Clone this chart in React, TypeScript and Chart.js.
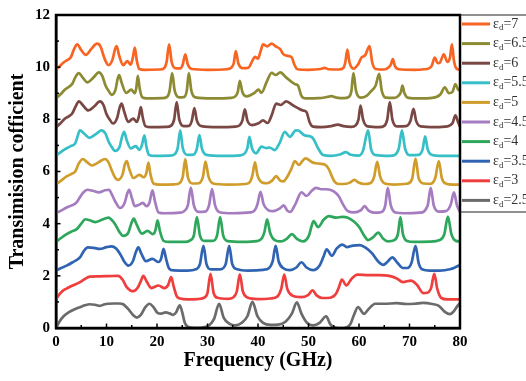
import React, { useEffect, useRef } from "react";
import { Chart, registerables } from "chart.js";

Chart.register(...registerables);

// Transmission of each spectrum (0..1); curves are stacked by OFFSETS
const LABELS = ["2.5", "3", "3.5", "4", "4.5", "5", "5.5", "6", "6.5", "7"];
const OFFSETS = [0, 1.1, 2.2, 3.3, 4.4, 5.5, 6.6, 7.7, 8.8, 9.9];
const COLORS = ["#6b6b6b", "#ef3e3e", "#3064b2", "#2ea75c", "#a57cc0", "#d09d2c", "#36bfc6", "#7a4844", "#8c8b34", "#f86422"];

const S25: number[][] = [[0,0],[0.7,0.25],[1.5,0.45],[2.5,0.6],[3.5,0.7],[4.75,0.8],[5.7,0.87],[6.7,0.91],[7.7,0.89],[8.7,0.85],[9.5,0.9],[10.3,0.93],[11.5,0.94],[12.5,0.94],[13.3,0.91],[14.2,0.75],[15.3,0.49],[16.0,0.4],[16.8,0.5],[17.7,0.8],[18.5,0.93],[19.3,0.8],[20.1,0.58],[20.8,0.55],[21.7,0.6],[22.5,0.56],[23.2,0.5],[23.8,0.6],[24.5,0.87],[25.0,0.6],[25.5,0.2],[26.2,0.04],[27.5,0.01],[29,0.02],[30.3,0.1],[31.3,0.35],[32.3,0.93],[33.2,0.4],[34.3,0.17],[35.5,0.1],[36.8,0.2],[37.9,0.45],[38.9,1.0],[39.9,0.45],[41,0.2],[42.5,0.12],[44,0.13],[45.5,0.25],[46.7,0.55],[47.7,0.98],[48.6,0.55],[49.7,0.2],[50.9,0.1],[52.2,0.2],[53.5,0.45],[54.3,0.15],[55.2,0.02],[57,0],[58.3,0.15],[59.0,0.5],[59.8,0.8],[61.0,0.54],[62.0,0.75],[63.2,0.93],[65,0.93],[67.5,0.95],[69.4,0.92],[71,0.93],[72.7,0.96],[74.5,0.92],[75.8,0.85],[77,0.62],[78,0.53],[78.8,0.65],[79.5,0.85],[80,0.96]];
const S30: number[][] = [[0,0],[0.7,0.2],[1.5,0.35],[2.1,0.41],[3.3,0.53],[4.75,0.66],[5.7,0.78],[6.7,0.87],[8.5,0.88],[10.5,0.89],[12.3,0.9],[13.2,0.75],[14,0.47],[15.3,0.31],[16.2,0.45],[16.8,0.7],[17.3,0.9],[17.9,0.7],[18.9,0.43],[20.3,0.53],[21.5,0.43],[22.2,0.55],[22.8,0.85],[23.3,0.5],[23.9,0.12],[24.6,0.03],[26,0],[28,0.01],[29.3,0.06],[30,0.25],[30.6,0.98],[31.2,0.25],[32,0.06],[34,0.02],[35.1,0.07],[35.8,0.3],[36.4,0.96],[37,0.3],[37.9,0.07],[40,0.01],[42.5,0.03],[43.9,0.12],[44.6,0.4],[45.2,0.95],[45.8,0.4],[46.8,0.14],[48.5,0.08],[49.9,0.16],[50.8,0.34],[51.6,0.15],[52.8,0.05],[54.3,0.06],[55.4,0.2],[56.0,0.45],[56.6,0.76],[57.5,0.53],[58.5,0.78],[59.7,0.95],[62,0.93],[64,0.93],[66,0.9],[67.5,0.8],[68.7,0.66],[70.3,0.72],[71.5,0.55],[72.7,0.24],[73.5,0.25],[74.3,0.45],[74.9,0.98],[75.5,0.4],[76.3,0.05],[77.5,0],[80,0]];
const S35: number[][] = [[0,0],[1,0.1],[2.1,0.19],[3.3,0.32],[4.75,0.51],[5.5,0.75],[6.3,0.89],[7.5,0.87],[8.7,0.83],[10,0.9],[11,0.93],[11.9,0.85],[12.7,0.64],[13.5,0.35],[14.3,0.19],[15.2,0.35],[15.8,0.7],[16.3,0.89],[16.9,0.65],[17.8,0.36],[19.1,0.45],[20.3,0.33],[20.8,0.45],[21.3,0.83],[21.8,0.45],[22.4,0.08],[23.3,0.01],[26,0],[27.7,0.05],[28.5,0.25],[29.2,0.95],[29.8,0.25],[30.7,0.05],[32.5,0.05],[33.6,0.25],[34.3,0.95],[34.9,0.25],[35.9,0.05],[38,0],[41,0.03],[42.2,0.1],[42.9,0.35],[43.5,0.95],[44.1,0.35],[45.1,0.08],[46.3,0.02],[47.6,0.12],[48.6,0.32],[49.6,0.12],[50.9,0.02],[52.2,0.2],[53.0,0.55],[53.6,0.82],[54.6,0.57],[55.6,0.85],[56.7,1.0],[57.6,0.9],[58.8,0.96],[60.2,0.98],[61.3,0.88],[62.6,0.66],[63.8,0.35],[64.8,0.22],[65.7,0.35],[66.6,0.51],[67.6,0.3],[68.7,0.1],[69.6,0.1],[70.4,0.3],[71.2,0.95],[71.8,0.3],[72.6,0.04],[74,0],[76,0],[78,0.05],[79,0.12],[80,0.22]];
const S40: number[][] = [[0,0],[1,0.15],[2.1,0.3],[3.1,0.4],[4.1,0.49],[5,0.7],[5.8,0.87],[6.8,0.82],[7.8,0.76],[9,0.84],[10.4,0.93],[11.0,0.85],[11.7,0.68],[12.5,0.4],[13.3,0.23],[14.3,0.35],[14.9,0.7],[15.4,0.89],[16.0,0.65],[17.0,0.32],[18.1,0.42],[19.2,0.3],[19.7,0.45],[20.1,0.83],[20.6,0.4],[21.3,0.04],[22.5,0],[25.5,0],[26.5,0.05],[27.3,0.25],[27.9,0.95],[28.5,0.25],[29.4,0.04],[31,0.04],[31.9,0.25],[32.5,0.95],[33.1,0.25],[34,0.03],[37,0],[39.8,0.03],[40.8,0.15],[41.3,0.4],[41.8,0.87],[42.4,0.35],[43.4,0.06],[44.6,0.02],[45.7,0.12],[46.7,0.3],[47.7,0.12],[48.9,0.02],[50.1,0.25],[50.6,0.6],[51.0,0.8],[51.9,0.57],[53,0.85],[54,0.99],[55.5,0.93],[56.7,0.96],[57.8,0.93],[59,0.78],[60.1,0.55],[61,0.25],[61.8,0.07],[62.8,0.18],[63.8,0.36],[64.8,0.12],[65.7,0.02],[67.0,0.07],[67.7,0.3],[68.2,0.95],[68.7,0.3],[69.5,0.04],[71,0],[74,0.01],[76,0.07],[76.9,0.3],[77.6,0.97],[78.3,0.3],[79.2,0.04],[80,0.02]];
const S45: number[][] = [[0,0],[1,0.1],[2.1,0.22],[3.1,0.3],[4,0.4],[4.7,0.6],[5.3,0.77],[6.2,0.9],[7.3,0.86],[8.5,0.8],[9.7,0.88],[10.5,0.9],[11.1,0.7],[11.7,0.46],[12.7,0.2],[13.6,0.4],[14.1,0.75],[14.5,0.9],[15.0,0.6],[15.6,0.27],[16.5,0.33],[17.2,0.4],[17.9,0.27],[18.5,0.4],[19.1,0.88],[19.6,0.45],[20.3,0.03],[21.5,0],[24.5,0.02],[25.4,0.08],[26.1,0.3],[26.7,0.98],[27.3,0.3],[28.2,0.05],[29.5,0.06],[30.3,0.3],[30.9,0.93],[31.5,0.3],[32.4,0.04],[35,0],[38.5,0.03],[39.4,0.12],[39.9,0.35],[40.5,0.82],[41.1,0.35],[42,0.12],[43,0.08],[44.3,0.18],[45.1,0.3],[45.8,0.1],[46.4,0.05],[47.4,0.35],[48.6,0.8],[49.6,0.66],[50.6,0.85],[51.5,0.97],[52.5,0.92],[53.5,0.92],[55,0.84],[56,0.65],[56.8,0.35],[57.8,0.08],[59,0.03],[60.4,0.12],[61.1,0.27],[61.9,0.1],[63,0.02],[64.5,0.05],[65.2,0.3],[65.7,0.97],[66.3,0.3],[67.2,0.03],[69,0],[72,0.02],[73.6,0.3],[74.2,0.97],[74.8,0.3],[75.8,0.06],[77.2,0.08],[78.2,0.35],[78.8,0.8],[79.4,0.3],[80,0.05]];
const S50: number[][] = [[0,0],[1,0.15],[2.1,0.31],[3.0,0.4],[3.8,0.5],[4.5,0.8],[5.3,0.98],[6.2,0.85],[7.1,0.73],[8.4,0.85],[9.7,0.98],[10.4,0.85],[11,0.56],[11.6,0.3],[12.3,0.18],[13.2,0.4],[13.6,0.75],[14,0.9],[14.5,0.6],[15.3,0.25],[16.5,0.37],[17.4,0.28],[17.9,0.45],[18.3,0.84],[18.7,0.4],[19.3,0.04],[20.5,0],[23.5,0.01],[24.5,0.06],[25.1,0.3],[25.6,0.98],[26.1,0.3],[27,0.04],[28.3,0.05],[29.1,0.3],[29.6,0.88],[30.2,0.3],[31.1,0.04],[34,0],[37.5,0.02],[38.4,0.1],[38.9,0.35],[39.4,0.85],[39.9,0.35],[40.8,0.08],[41.8,0.05],[42.8,0.15],[43.6,0.32],[44.4,0.15],[45,0.12],[45.8,0.3],[46.6,0.6],[47.3,0.9],[48.1,0.75],[48.8,0.9],[49.4,1.0],[50.9,0.84],[52.2,0.8],[53.2,0.77],[54.0,0.6],[54.5,0.37],[55.2,0.1],[56,0.02],[57.5,0.03],[58.4,0.1],[59.1,0.18],[59.9,0.08],[61,0.02],[62.3,0.06],[63.0,0.3],[63.6,0.87],[64.2,0.3],[65.1,0.04],[67,0],[69.5,0.03],[70.5,0.2],[71.2,0.99],[71.8,0.25],[72.8,0.04],[74.2,0.03],[75.1,0.25],[75.8,0.9],[76.4,0.25],[77.3,0.03],[78.5,0],[80,0]];
const S55: number[][] = [[0,0],[1,0.15],[2.1,0.29],[3,0.38],[3.8,0.48],[4.2,0.7],[4.75,0.98],[5.6,0.85],[6.6,0.69],[7.8,0.82],[9,0.98],[9.8,0.85],[10.4,0.55],[11,0.35],[11.7,0.19],[12.6,0.35],[13.1,0.75],[13.5,0.92],[14.0,0.6],[14.8,0.29],[15.8,0.37],[16.5,0.23],[17,0.4],[17.5,0.79],[17.9,0.35],[18.4,0.04],[19.5,0],[22.5,0.01],[23.5,0.06],[24.1,0.3],[24.6,0.98],[25.1,0.3],[26,0.04],[27.2,0.05],[27.9,0.28],[28.4,0.8],[28.9,0.28],[29.8,0.04],[33,0],[36.5,0.02],[37.4,0.1],[37.9,0.3],[38.3,0.73],[38.8,0.3],[39.6,0.1],[40.7,0.35],[41.6,0.3],[42.3,0.32],[43.3,0.22],[44.3,0.5],[45.3,0.92],[46.3,0.73],[47.5,0.98],[48,0.97],[49.2,0.79],[50.3,0.75],[50.9,0.67],[51.9,0.29],[52.9,0.03],[54.5,0],[56.2,0.05],[57.4,0.14],[58.4,0.04],[60,0.01],[60.8,0.2],[61.8,0.98],[62.4,0.25],[63.3,0.03],[66,0],[67.2,0.05],[67.9,0.3],[68.5,0.98],[69.1,0.3],[70,0.03],[71.8,0.04],[72.6,0.25],[73.1,0.75],[73.6,0.25],[74.5,0.03],[76,0],[80,0]];
const S60: number[][] = [[0,0],[0.9,0.15],[1.8,0.33],[2.6,0.42],[3.2,0.52],[3.9,0.8],[4.55,0.99],[5.4,0.82],[6.4,0.64],[7.6,0.8],[8.7,0.99],[9.4,0.85],[10,0.5],[10.6,0.3],[11.3,0.14],[12.1,0.35],[12.6,0.75],[13,0.9],[13.5,0.6],[14.3,0.2],[15.3,0.33],[16,0.2],[16.4,0.4],[16.8,0.77],[17.2,0.35],[17.7,0.04],[18.8,0],[21.8,0.01],[22.8,0.06],[23.4,0.3],[23.9,0.96],[24.4,0.3],[25.3,0.04],[26.3,0.05],[26.9,0.25],[27.4,0.73],[27.9,0.25],[28.8,0.04],[32,0],[35.5,0.02],[36.4,0.08],[36.9,0.25],[37.4,0.68],[37.9,0.25],[38.8,0.08],[40.1,0.15],[41,0.26],[41.9,0.16],[42.7,0.45],[43.6,0.9],[44.5,0.85],[45.6,0.99],[46.9,0.84],[48,0.72],[48.9,0.64],[49.6,0.58],[50.2,0.2],[50.9,0.02],[52.5,0],[54.5,0.04],[55.8,0.1],[56.9,0.04],[58.5,0.01],[59.3,0.06],[59.9,0.3],[60.3,0.83],[60.8,0.3],[61.7,0.03],[64,0],[65,0.05],[65.6,0.3],[66.1,0.96],[66.6,0.3],[67.5,0.03],[69.3,0.04],[70.2,0.25],[70.8,0.7],[71.3,0.25],[72.2,0.03],[75,0],[77.5,0.03],[78.5,0.15],[79.1,0.45],[79.6,0.2],[80,0.02]];
const S65: number[][] = [[0,0],[0.9,0.16],[1.8,0.34],[2.6,0.45],[3.2,0.55],[3.8,0.8],[4.5,0.97],[5.3,0.8],[6.2,0.62],[7.4,0.8],[8.5,1.0],[9.2,0.85],[9.8,0.5],[10.4,0.3],[11,0.14],[11.8,0.35],[12.2,0.75],[12.5,0.9],[13,0.6],[13.9,0.21],[14.9,0.34],[15.6,0.2],[15.9,0.4],[16.2,0.87],[16.6,0.35],[17.1,0.04],[18,0],[21,0.01],[22,0.06],[22.5,0.3],[23,0.97],[23.5,0.3],[24.4,0.04],[25.3,0.05],[25.9,0.3],[26.3,0.97],[26.8,0.3],[27.6,0.04],[31,0],[34.6,0.02],[35.5,0.08],[36,0.25],[36.4,0.68],[36.9,0.25],[37.8,0.08],[39.2,0.2],[40.1,0.34],[40.7,0.22],[41.7,0.63],[42.7,0.98],[43.5,0.9],[44.4,1.0],[45.6,0.8],[47.3,0.55],[47.9,0.5],[48.6,0.1],[49.4,0],[52,0.01],[53.5,0.05],[54.5,0.09],[55.6,0.03],[57,0.01],[58,0.06],[58.5,0.3],[58.9,0.97],[59.4,0.3],[60.3,0.03],[61.5,0.1],[62.3,0.26],[63.3,0.5],[64,0.94],[64.5,0.3],[65.3,0.03],[67,0.02],[67.8,0.1],[68.3,0.25],[68.6,0.49],[69,0.2],[69.8,0.02],[72,0],[74.5,0.02],[76.1,0.15],[77,0.43],[77.8,0.2],[78.5,0.25],[79.1,0.55],[79.6,0.35],[80,0.3]];
const S70: number[][] = [[0,0],[0.8,0.15],[1.5,0.28],[2.3,0.38],[2.9,0.47],[3.6,0.8],[4.2,0.97],[5,0.75],[5.9,0.57],[7,0.8],[8.1,1.0],[8.8,0.9],[9.4,0.55],[9.9,0.3],[10.4,0.18],[11.2,0.4],[11.7,0.8],[12,0.91],[12.5,0.55],[13.3,0.18],[14.1,0.33],[14.8,0.2],[15.2,0.45],[15.6,0.85],[16,0.35],[16.5,0.03],[17.5,0],[20.5,0.01],[21.4,0.06],[21.9,0.3],[22.4,0.97],[22.9,0.3],[23.8,0.05],[24.6,0.05],[25.1,0.2],[25.6,0.59],[26.1,0.2],[26.9,0.03],[30,0],[33.8,0.02],[34.7,0.08],[35.2,0.25],[35.6,0.72],[36.1,0.25],[37,0.06],[38.1,0.08],[38.9,0.35],[39.4,0.5],[40,0.43],[40.5,0.7],[41,0.97],[41.8,0.9],[42.7,1.0],[43.5,0.9],[44.4,0.79],[45,0.6],[46,0.53],[46.7,0.47],[47.2,0.2],[47.8,0.02],[50,0],[52.4,0.03],[53.2,0.07],[54,0.02],[56,0.01],[56.9,0.07],[57.3,0.3],[57.7,0.77],[58.1,0.3],[58.9,0.04],[59.8,0.2],[60.5,0.47],[61.2,0.55],[62.1,0.91],[62.6,0.3],[63.3,0.03],[65,0.01],[65.9,0.1],[66.3,0.2],[66.7,0.41],[67.1,0.15],[67.9,0.02],[71,0],[73.5,0.03],[74.4,0.15],[75,0.47],[75.6,0.25],[76,0.27],[76.8,0.59],[77.5,0.3],[78,0.45],[78.4,0.97],[78.8,0.35],[79.3,0.05],[80,0]];

const SERIES = [S25, S30, S35, S40, S45, S50, S55, S60, S65, S70];
const X_TICKS = [0, 10, 20, 30, 40, 50, 60, 70, 80];
const Y_TICKS = [0, 2, 4, 6, 8, 10, 12];

const SERIF = '"Liberation Serif", "Times New Roman", serif';

const framePlugin = {
  id: "frameAndLegend",
  afterDraw(chart: any) {
    const { ctx, chartArea, scales } = chart;
    const { left, right, top, bottom } = chartArea;
    const xs = scales.x;
    const ys = scales.y;
    ctx.save();
    // inward tick marks
    ctx.strokeStyle = "#000";
    ctx.lineWidth = 1.5;
    for (let v = 0; v <= 80; v += 5) {
      const px = xs.getPixelForValue(v);
      const len = v % 10 === 0 ? 4.5 : 3;
      ctx.beginPath();
      ctx.moveTo(px, bottom);
      ctx.lineTo(px, bottom - len);
      ctx.stroke();
    }
    for (let v = 0; v <= 12; v += 1) {
      const py = ys.getPixelForValue(v);
      const len = v % 2 === 0 ? 4.5 : 3;
      ctx.beginPath();
      ctx.moveTo(left, py);
      ctx.lineTo(left + len, py);
      ctx.stroke();
    }
    // frame
    ctx.lineWidth = 2.5;
    ctx.strokeRect(left, top, right - left, bottom - top);
    // legend box
    ctx.lineWidth = 1.2;
    ctx.strokeStyle = "#222";
    const boxBottom = top + 197;
    ctx.beginPath();
    ctx.moveTo(right, top);
    ctx.lineTo(right + 80, top);
    ctx.moveTo(right, boxBottom);
    ctx.lineTo(right + 80, boxBottom);
    ctx.stroke();
    const n = LABELS.length;
    for (let k = 0; k < n; k++) {
      const i = n - 1 - k;
      const yy = top + 9 + k * 19.6;
      ctx.strokeStyle = COLORS[i];
      ctx.lineWidth = 3;
      ctx.beginPath();
      ctx.moveTo(right + 2, yy);
      ctx.lineTo(right + 30, yy);
      ctx.stroke();
      ctx.fillStyle = "#333";
      ctx.textBaseline = "middle";
      ctx.textAlign = "left";
      let tx = right + 33;
      ctx.font = `14px ${SERIF}`;
      ctx.fillText("\u03b5", tx, yy);
      tx += ctx.measureText("\u03b5").width;
      ctx.font = `9px ${SERIF}`;
      ctx.fillText("d", tx, yy + 4);
      tx += ctx.measureText("d").width;
      ctx.font = `14px ${SERIF}`;
      ctx.fillText("=" + LABELS[i], tx, yy);
    }
    ctx.restore();
  },
};

export default function App() {
  const ref = useRef<HTMLCanvasElement | null>(null);
  useEffect(() => {
    if (!ref.current) return;
    const datasets = SERIES.map((pts, i) => ({
      label: "\u03b5d=" + LABELS[i],
      data: pts.map(([f, t]) => ({ x: f, y: t + OFFSETS[i] })),
      borderColor: COLORS[i],
      backgroundColor: COLORS[i],
      borderWidth: 2.7,
      pointRadius: 0,
      cubicInterpolationMode: "monotone" as const,
      fill: false,
    }));
    const tickFont = { family: SERIF, size: 15, weight: "bold" as const };
    const chart = new Chart(ref.current, {
      type: "line",
      data: { datasets },
      options: {
        animation: false,
        responsive: true,
        maintainAspectRatio: false,
        layout: { padding: { left: 0, right: 66, top: 12, bottom: 0 } },
        plugins: { legend: { display: false }, tooltip: { enabled: false } },
        scales: {
          x: {
            type: "linear",
            min: 0,
            max: 80,
            afterBuildTicks: (s: any) => { s.ticks = X_TICKS.map((v) => ({ value: v })); },
            ticks: { font: tickFont, color: "#000", padding: 5, maxRotation: 0 },
            grid: { display: false, drawTicks: false },
            border: { display: true, color: "#000", width: 2.5 },
            title: { display: true, text: "Frequency (GHz)", color: "#000", font: { family: SERIF, size: 20, weight: "bold" }, padding: { top: 0, bottom: 8 } },
            afterFit: (s: any) => { s.height = 53; },
          },
          y: {
            type: "linear",
            min: 0,
            max: 12,
            afterBuildTicks: (s: any) => { s.ticks = Y_TICKS.map((v) => ({ value: v })); },
            ticks: { font: tickFont, color: "#000", padding: 6 },
            grid: { display: false, drawTicks: false },
            border: { display: true, color: "#000", width: 2.5 },
            title: { display: true, text: "Transimision cofficient", color: "#000", font: { family: SERIF, size: 20, weight: "bold" }, padding: { top: 6, bottom: 0 } },
            afterFit: (s: any) => { s.width = 56; },
          },
        },
      },
      plugins: [framePlugin],
    });
    return () => chart.destroy();
  }, []);
  return (
    <div style={{ position: "fixed", left: 0, top: 0, width: 526, height: 381, background: "#fff" }}>
      <canvas ref={ref} />
    </div>
  );
}
